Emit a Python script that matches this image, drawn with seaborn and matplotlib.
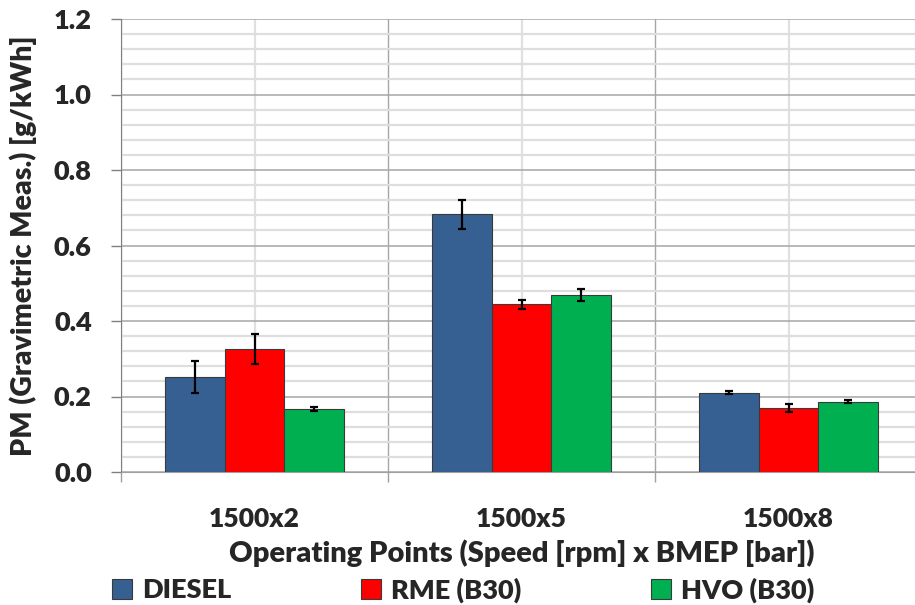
import numpy as np
import pandas as pd
import matplotlib
matplotlib.use("Agg")
import matplotlib.pyplot as plt
import seaborn as sns
from matplotlib.ticker import MultipleLocator, FixedLocator

categories = ["1500x2", "1500x5", "1500x8"]
fuels = ["DIESEL", "RME (B30)", "HVO (B30)"]
diesel = [0.252, 0.683, 0.210]
rme = [0.325, 0.444, 0.170]
hvo = [0.167, 0.469, 0.186]
diesel_err = [0.042, 0.038, 0.004]
rme_err = [0.040, 0.011, 0.010]
hvo_err = [0.006, 0.017, 0.004]
colors = ["#376092", "#ff0000", "#00b050"]
y_ticks = [0.0, 0.2, 0.4, 0.6, 0.8, 1.0, 1.2]

sns.set_style("white")
plt.rcParams["font.family"] = ["Lato", "DejaVu Sans"]
plt.rcParams["font.weight"] = "heavy"

W = "heavy"
values = [diesel, rme, hvo]
errors = [diesel_err, rme_err, hvo_err]
df = pd.DataFrame({
    "cat": [c for f in fuels for c in categories],
    "fuel": [f for f in fuels for _ in categories],
    "val": [v for vs in values for v in vs],
})

fig = plt.figure(figsize=(9.15, 6.05), dpi=100)
ax = fig.add_axes([121 / 915, 1 - 472 / 605, (922 - 121) / 915, (472 - 19) / 605])

sns.barplot(data=df, x="cat", y="val", hue="fuel", order=categories, hue_order=fuels,
            palette=colors, width=0.667, errorbar=None, edgecolor="#3a3a3a",
            linewidth=0.8, saturation=1, ax=ax, zorder=3)

for cont, errs in zip(ax.containers, errors):
    xs = [b.get_x() + b.get_width() / 2 for b in cont]
    hs = [b.get_height() for b in cont]
    ax.errorbar(xs, hs, yerr=errs, fmt="none", ecolor="black", elinewidth=1.6,
                capsize=3.2, capthick=1.6, zorder=4)

handles, labels = ax.get_legend_handles_labels()
if ax.get_legend() is not None:
    ax.get_legend().remove()

ax.set_xlim(-0.5, 2.5)
ax.set_ylim(0, 1.2)
ax.yaxis.set_major_locator(FixedLocator(y_ticks))
ax.set_yticklabels([f"{t:.1f}" for t in y_ticks], fontsize=19.5, fontweight=W)
ax.yaxis.set_minor_locator(MultipleLocator(0.04))
ax.set_xticks([-0.5, 0.5, 1.5, 2.5])
ax.set_xticklabels([])
ax.set_xticks([0, 1, 2], categories, minor=True)
for t in ax.get_xticklabels(minor=True):
    t.set_fontsize(19)
    t.set_fontweight(W)

ax.tick_params(axis="y", which="major", direction="out", length=7, width=1,
               color="#808080", pad=14, left=True)
ax.tick_params(axis="y", which="minor", length=0)
ax.tick_params(axis="x", which="major", direction="out", length=7, width=1,
               color="#a0a0a0", bottom=True)
ax.tick_params(axis="x", which="minor", length=0, pad=25)

ax.grid(axis="y", which="major", color="#a6a6a6", linewidth=1.1, zorder=0)
ax.grid(axis="y", which="minor", color="#dedede", linewidth=1.6, zorder=0)
ax.grid(axis="x", which="major", color="#a6a6a6", linewidth=1.0, zorder=0)
ax.grid(axis="x", which="minor", color="#e0e0e0", linewidth=1.6, zorder=0)
ax.set_axisbelow(True)

for s in ["top", "right"]:
    ax.spines[s].set_visible(False)
ax.spines["left"].set_color("#808080")
ax.spines["bottom"].set_color("#a0a0a0")

ax.set_xlabel("Operating Points (Speed [rpm] x BMEP [bar])", fontsize=21,
              fontweight=W, labelpad=6)
ax.set_ylabel("PM (Gravimetric Meas.) [g/kWh]", fontsize=20.5, fontweight=W,
              labelpad=12)

fig.legend(handles, labels, loc="center left", bbox_to_anchor=(112 / 915, 1 - 590 / 605),
           ncol=3, frameon=False, prop={"weight": W, "size": 19.5},
           handlelength=0.75, handleheight=0.75, handletextpad=0.35,
           columnspacing=4.8, borderpad=0, borderaxespad=0)

fig.savefig("out.png", dpi=100)
